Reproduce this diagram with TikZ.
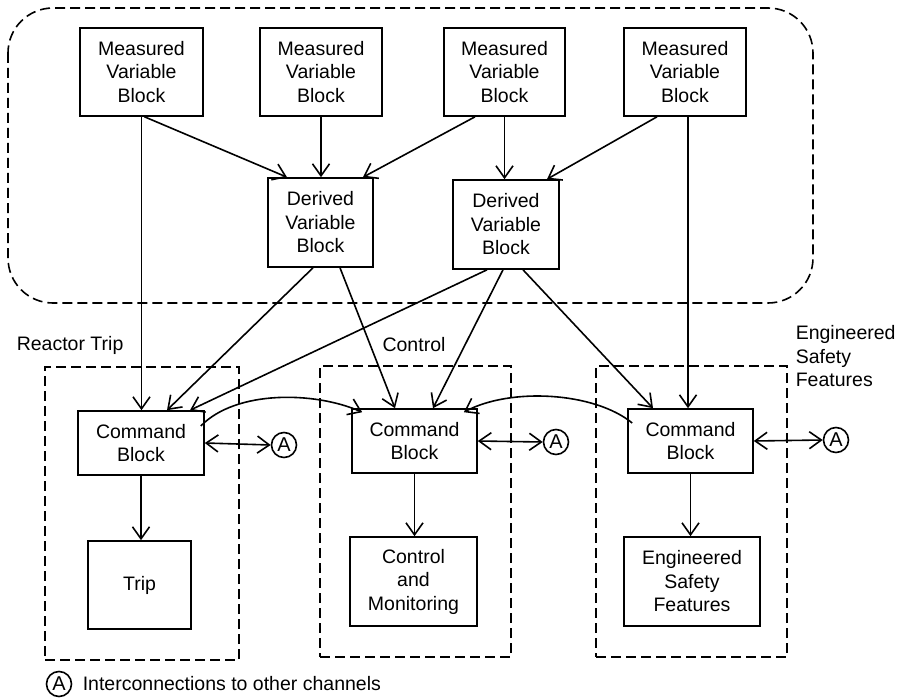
\documentclass[tikz,border=0pt]{standalone}
\usepackage{fontspec}
\setmainfont{Liberation Sans}
\usetikzlibrary{arrows.meta}
\begin{document}
\begin{tikzpicture}[x=1pt,y=-1pt,
  line width=1.6pt,
  every node/.style={font=\fontsize{19.5}{23.5}\selectfont, align=center, inner sep=0pt},
  blk/.style={draw, line width=1.6pt},
  grp/.style={draw, dashed, dash pattern=on 10pt off 5pt, line width=1.6pt},
  arr/.style={-{Straight Barb[length=12pt,width=17pt,line width=1.6pt]}},
  darr/.style={{Straight Barb[length=12pt,width=17pt,line width=1.6pt]}-{Straight Barb[length=12pt,width=17pt,line width=1.6pt]}},
  chan/.style={draw, circle, minimum size=25pt, line width=1.6pt, font=\fontsize{20}{20}\selectfont},
  lbl/.style={font=\fontsize{19.5}{23.5}\selectfont}
]
\useasboundingbox (0,0) rectangle (900,698);

% shared measurement area
\draw[dashed, dash pattern=on 10pt off 5pt, line width=1.6pt, rounded corners=45pt]
  (8,8) rectangle (813,303);

% measured and derived variable blocks
\node[blk, minimum width=123pt, minimum height=88pt] (mv1) at (141.5,72) {Measured\\Variable\\Block};
\node[blk, minimum width=122pt, minimum height=88pt] (mv2) at (321,72) {Measured\\Variable\\Block};
\node[blk, minimum width=121pt, minimum height=88pt] (mv3) at (504.5,72) {Measured\\Variable\\Block};
\node[blk, minimum width=122pt, minimum height=88pt] (mv4) at (685,72) {Measured\\Variable\\Block};
\node[blk, minimum width=105pt, minimum height=89pt] (dv1) at (320.5,222.5) {Derived\\Variable\\Block};
\node[blk, minimum width=106pt, minimum height=89pt] (dv2) at (506,224.5) {Derived\\Variable\\Block};

% channel groups
\node[grp, minimum width=194pt, minimum height=293pt] (g1) at (142,513.5) {};
\node[grp, minimum width=191pt, minimum height=291pt] (g2) at (415.5,511.5) {};
\node[grp, minimum width=191pt, minimum height=291pt] (g3) at (691.5,511.5) {};
\node[lbl, anchor=west] (l1) at (16,345) {Reactor Trip};
\node[lbl] (l2) at (414,345) {Control};
\node[lbl, anchor=north west, align=left] (l3) at (795,325) {Engineered\\Safety\\Features};

% command blocks and outputs
\node[blk, minimum width=126pt, minimum height=64pt] (cb1) at (141,443) {Command\\Block};
\node[blk, minimum width=125pt, minimum height=64pt] (cb2) at (414.5,441) {Command\\Block};
\node[blk, minimum width=125pt, minimum height=64pt] (cb3) at (690.5,441) {Command\\Block};
\node[blk, minimum width=103pt, minimum height=88pt] (trip) at (139.5,585) {Trip};
\node[blk, minimum width=127pt, minimum height=89pt] (cm) at (413.5,581.5) {Control\\and\\Monitoring};
\node[blk, minimum width=136pt, minimum height=89pt] (esf) at (692,581.5) {Engineered\\Safety\\Features};

% interconnection markers
\node[chan] (a1) at (284,445) {A};
\node[chan] (a2) at (556,442) {A};
\node[chan] (a3) at (836,440) {A};

% measured -> derived
\draw[arr] ([xshift=3pt]mv1.south) -- ([xshift=-33.5pt]dv1.north);
\draw[arr] (mv2.south) -- (mv2.south |- dv1.north);
\draw[arr] ([xshift=-29.5pt]mv3.south) -- ([xshift=42.5pt]dv1.north);
\draw[arr] (mv3.south) -- (mv3.south |- dv2.north);
\draw[arr] ([xshift=-28pt]mv4.south) -- ([xshift=41pt]dv2.north);

% direct measured -> command
\draw[arr] (mv1.south) -- (mv1.south |- cb1.north);
\draw[arr] ([xshift=3pt]mv4.south) -- ([xshift=3pt]mv4.south |- cb3.north);

% derived -> command
\draw[arr] ([xshift=-7.5pt]dv1.south) -- ([xshift=26pt]cb1.north);
\draw[arr] ([xshift=19.5pt]dv1.south) -- ([xshift=-19.5pt]cb2.north);
\draw[arr] ([xshift=-19pt]dv2.south) -- ([xshift=49pt]cb1.north);
\draw[arr] ([xshift=-3pt]dv2.south) -- ([xshift=18.5pt]cb2.north);
\draw[arr] ([xshift=17pt]dv2.south) -- ([xshift=-37.5pt]cb3.north);

% command -> outputs
\draw[arr] (cb1.south) -- (cb1.south |- trip.north);
\draw[arr] (cb2.south) -- (cb2.south |- cm.north);
\draw[arr] (cb3.south) -- (cb3.south |- esf.north);

% links between command blocks
\draw[arr] ([xshift=-4pt,yshift=17pt]cb1.east)
  .. controls +(35,-36) and +(-48,-21) .. ([xshift=11pt,yshift=-4pt]cb2.north west);
\draw[arr] ([xshift=5pt,yshift=18pt]cb3.west)
  .. controls +(-38,-31) and +(47,-25) .. ([xshift=-14pt,yshift=-4pt]cb2.north east);

% links to other channels
\draw[darr] (cb1.east) -- (a1.west);
\draw[darr] (cb2.east) -- (a2.west);
\draw[darr] (cb3.east) -- (a3.west);

% legend
\node[chan] (ka) at (59,684) {A};
\node[lbl, anchor=west] (kt) at (82,684) {Interconnections to other channels};
\end{tikzpicture}
\end{document}
